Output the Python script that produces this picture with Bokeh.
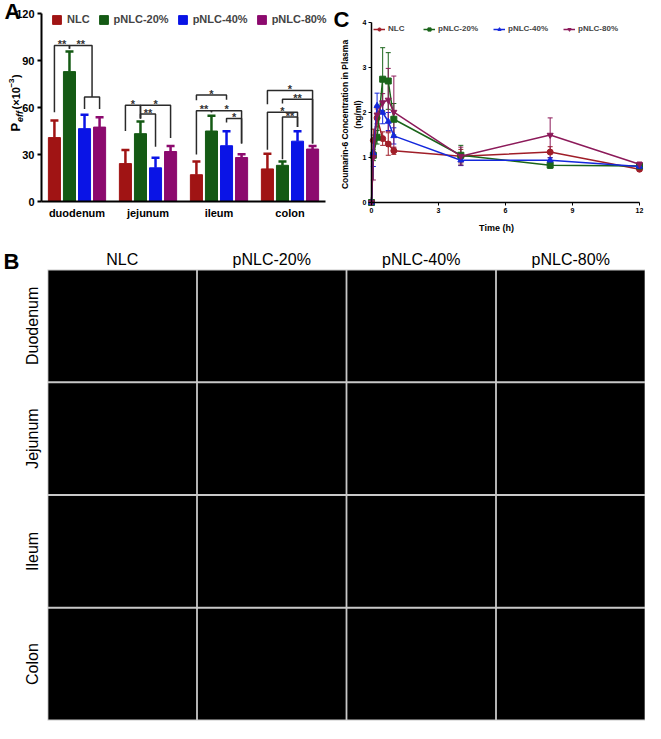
import math
from bokeh.plotting import figure
from bokeh.models import (Range1d, Legend, LegendItem, Whisker, LinearAxis,
                          ColumnDataSource, FixedTicker, TeeHead)
from bokeh.layouts import column, row
from bokeh.embed import file_html
from bokeh.resources import INLINE
from bokeh.core.properties import value

FONT = "Liberation Sans"

# ---------------- Panel A data ----------------
segments = ["duodenum", "jejunum", "ileum", "colon"]
groups = ["NLC", "pNLC-20%", "pNLC-40%", "pNLC-80%"]
peff_nlc = [40.8, 24.2, 17.1, 20.8]
peff_nlc_sd = [10.9, 8.7, 8.5, 9.6]
peff_20 = [82.9, 43.3, 45.0, 23.1]
peff_20_sd = [12.9, 7.7, 9.8, 2.5]
peff_40 = [46.5, 21.5, 35.6, 38.5]
peff_40_sd = [8.9, 6.5, 9.2, 6.3]
peff_80 = [47.5, 31.9, 28.1, 33.5]
peff_80_sd = [6.3, 3.5, 2.1, 1.9]
y_ticks_a = [0, 30, 60, 90, 120]

# significance comparisons: (segment, bar a, bar b, height, drop a, drop b, label)
comparisons = [
    (0, 0, 1, 99.6, 56.9, 97.5, "**"),
    (0, 1, 2.5, 99.6, 97.5, 66.7, "**"),
    (0, 2, 3, 66.7, 59.0, 59.0, ""),
    (1, 0, 1, 61.5, 45.0, 53.0, "*"),
    (1, 1, 3, 61.5, 53.0, 40.6, "*"),
    (1, 1, 2, 55.8, 53.0, 35.0, "**"),
    (2, 0, 2, 68.0, 64.6, 65.0, "*"),
    (2, 0, 1, 58.0, 30.0, 57.0, "**"),
    (2, 1, 3, 58.0, 57.0, 37.0, "*"),
    (2, 2, 3, 53.0, 50.5, 37.0, "*"),
    (3, 0, 3, 70.8, 62.0, 37.0, "*"),
    (3, 1, 3, 65.2, 62.5, 37.0, "**"),
    (3, 0, 2, 57.0, 33.0, 47.5, "*"),
    (3, 1, 2, 54.0, 27.0, 47.5, "**"),
]

# ---------------- Panel C data ----------------
times = [0, 0.083, 0.25, 0.5, 0.75, 1, 4, 8, 12]
conc_nlc = [0, 1.38, 1.88, 1.42, 1.30, 1.15, 1.03, 1.12, 0.74]
conc_nlc_sd = [0, 0.25, 0.20, 0.15, 0.25, 0.08, 0.15, 0.12, 0.04]
conc_20 = [0, 1.05, 1.45, 2.74, 2.70, 1.85, 1.05, 0.83, 0.81]
conc_20_sd = [0, 0.12, 0.15, 0.70, 0.63, 0.35, 0.22, 0.07, 0.05]
conc_40 = [0, 1.10, 2.15, 2.00, 1.80, 1.48, 0.94, 0.94, 0.80]
conc_40_sd = [0, 0.30, 0.28, 0.25, 0.20, 0.18, 0.12, 0.05, 0.04]
conc_80 = [0, 1.00, 1.95, 2.22, 2.28, 2.01, 1.03, 1.50, 0.85]
conc_80_sd = [0, 0.50, 0.20, 0.20, 0.70, 0.80, 0.20, 0.38, 0.05]
x_ticks_c = [0, 3, 6, 9, 12]
y_ticks_c = [0, 1, 2, 3, 4]

# ---------------- Panel B labels ----------------
b_cols = ["NLC", "pNLC-20%", "pNLC-40%", "pNLC-80%"]
b_rows = ["Duodenum", "Jejunum", "Ileum", "Colon"]

colors_a = ["#A01414", "#145A14", "#0A14E6", "#8C0A6E"]
colors_c = ["#A01E28", "#1A641A", "#1428DC", "#8C1A5A"]


def make_fig(w, h, xr, yr):
    p = figure(width=w, height=h, x_range=Range1d(*xr), y_range=Range1d(*yr),
               x_axis_location=None, y_axis_location=None,
               output_backend="svg", toolbar_location=None, min_border=0)
    p.outline_line_color = None
    p.grid.visible = False
    return p


def style_axis(ax, size, lw, tick_out):
    ax.axis_line_width = lw
    ax.major_tick_line_width = lw
    ax.major_tick_out = tick_out
    ax.major_tick_in = 0
    ax.minor_tick_line_color = None
    ax.major_label_text_font = FONT
    ax.major_label_text_font_size = size
    ax.major_label_text_font_style = "bold"
    ax.major_label_text_color = "black"


def txt(p, x, y, text, size, style="bold", angle=0.0, align="left", baseline="middle", color="black"):
    p.text([x], [y], [text], angle=angle, text_font=value(FONT), text_font_size=size,
           text_font_style=style, text_align=align, text_baseline=baseline, text_color=color)


# =============== Panel A ===============
WA, HA = 330, 250
AL, AR, AT, AB = 41, 325, 13, 201          # pixel box of the real axes
ax_ppx = (AR - AL) / 4.0
ay_ppy = (AB - AT) / 120.0
xa0 = -0.5 - AL / ax_ppx
xa1 = 3.5 + (WA - AR) / ax_ppx
ya0 = -(HA - AB) / ay_ppy
ya1 = 120 + AT / ay_ppy
p_a = make_fig(WA, HA, (xa0, xa1), (ya0, ya1))
A_px = lambda px: xa0 + px / ax_ppx
A_py = lambda py: ya1 - py / ay_ppy

offs = [-0.318, -0.106, 0.106, 0.318]
series_a = [(peff_nlc, peff_nlc_sd), (peff_20, peff_20_sd), (peff_40, peff_40_sd), (peff_80, peff_80_sd)]
leg_items = []
for i, ((vals, sds), col) in enumerate(zip(series_a, colors_a)):
    xs = [k + offs[i] for k in range(len(segments))]
    src = ColumnDataSource(dict(x=xs, top=vals, up=[v + s for v, s in zip(vals, sds)]))
    r = p_a.vbar(x="x", top="top", width=0.17, source=src, fill_color=col, line_color=col)
    p_a.add_layout(Whisker(base="x", lower="top", upper="up", source=src, line_color=col,
                           line_width=2.5, lower_head=None,
                           upper_head=TeeHead(size=8, line_color=col, line_width=2.5)))
    leg_items.append(LegendItem(label=groups[i], renderers=[r]))


def bar_x(seg, idx):
    i0 = int(math.floor(idx))
    frac = idx - i0
    if frac == 0:
        return seg + offs[i0]
    return seg + offs[i0] + frac * (offs[i0 + 1] - offs[i0])


bxs, bys, tx, ty, tt = [], [], [], [], []
for seg, a, b, h, la, lb, lab in comparisons:
    x1, x2 = bar_x(seg, a), bar_x(seg, b)
    bxs.append([x1, x1, x2, x2])
    bys.append([la, h, h, lb])
    if lab:
        tx.append((x1 + x2) / 2)
        ty.append(h + 0.8)
        tt.append(lab)
p_a.multi_line(bxs, bys, line_color="#2a2a2a", line_width=1.5)
p_a.text(tx, ty, tt, text_font=value(FONT), text_font_size="11px", text_font_style="bold",
         text_color="#333333", text_align="center", text_baseline="middle")

leg_a = Legend(items=leg_items, location=(51, 225), orientation="horizontal",
               label_text_font=FONT, label_text_font_size="11px", label_text_font_style="bold",
               glyph_width=11, glyph_height=11, label_standoff=5, spacing=8, padding=0, margin=0,
               border_line_color=None, background_fill_alpha=0, label_height=11)
p_a.add_layout(leg_a)

ya = LinearAxis(fixed_location=-0.5, bounds=(0, 120), ticker=FixedTicker(ticks=y_ticks_a))
style_axis(ya, "11px", 2, 4)
ya.major_label_standoff = 3
p_a.add_layout(ya, "left")

xa = LinearAxis(fixed_location=0, bounds=(-0.5, 3.5), ticker=FixedTicker(ticks=[0, 1, 2, 3]))
style_axis(xa, "11px", 2, 0)
xa.major_tick_line_color = None
xa.major_label_overrides = {i: s for i, s in enumerate(segments)}
xa.major_label_standoff = 5
p_a.add_layout(xa, "below")

txt(p_a, A_px(4), A_py(10.5), "A", "22px")
# y axis label P_eff (x10^-3), each piece rotated to read upward (centre aligned)
txt(p_a, A_px(15), A_py(126.7), "P", "13px", angle=math.pi / 2, align="center")
txt(p_a, A_px(19), A_py(116), "eff", "9px", style="bold italic", angle=math.pi / 2, align="center")
txt(p_a, A_px(15), A_py(97.8), "(\u00d710", "11px", angle=math.pi / 2, align="center")
txt(p_a, A_px(11), A_py(82.5), "\u22123", "8px", angle=math.pi / 2, align="center")
txt(p_a, A_px(15), A_py(75.6), ")", "11px", angle=math.pi / 2, align="center")

# =============== Panel C ===============
WC, HC = 315, 250
CL, CR, CT, CB = 41, 309, 22, 202
cx_ppx = (CR - CL) / 12.0
cy_ppy = (CB - CT) / 4.0
xc0 = -CL / cx_ppx
xc1 = 12 + (WC - CR) / cx_ppx
yc0 = -(HC - CB) / cy_ppy
yc1 = 4 + CT / cy_ppy
p_c = make_fig(WC, HC, (xc0, xc1), (yc0, yc1))
C_px = lambda px: xc0 + px / cx_ppx
C_py = lambda py: yc1 - py / cy_ppy

series_c = [(conc_nlc, conc_nlc_sd, "circle"), (conc_20, conc_20_sd, "square"),
            (conc_40, conc_40_sd, "triangle"), (conc_80, conc_80_sd, "inverted_triangle")]
leg_c_items = []
for i, ((vals, sds, mk), col) in enumerate(zip(series_c, colors_c)):
    src = ColumnDataSource(dict(t=times, v=vals,
                                lo=[v - s for v, s in zip(vals, sds)],
                                hi=[v + s for v, s in zip(vals, sds)]))
    p_c.add_layout(Whisker(base="t", lower="lo", upper="hi", source=src, line_color=col, line_width=1,
                           lower_head=TeeHead(size=5, line_color=col, line_width=1),
                           upper_head=TeeHead(size=5, line_color=col, line_width=1)))
    ln = p_c.line("t", "v", source=src, line_color=col, line_width=1.5)
    sc = p_c.scatter("t", "v", source=src, marker=mk, size=6, fill_color=col, line_color=col)
    leg_c_items.append(LegendItem(label=groups[i], renderers=[ln, sc]))

leg_c = Legend(items=leg_c_items, location=(43, 217), orientation="horizontal",
               label_text_font=FONT, label_text_font_size="8px", label_text_font_style="bold",
               glyph_width=12, glyph_height=8, label_standoff=3, spacing=15, padding=0, margin=0,
               border_line_color=None, background_fill_alpha=0, label_height=8)
p_c.add_layout(leg_c)

xcx = LinearAxis(fixed_location=0, bounds=(0, 12), ticker=FixedTicker(ticks=x_ticks_c))
style_axis(xcx, "7px", 1.5, 3)
xcx.major_tick_line_width = 1
xcx.major_label_standoff = 2
p_c.add_layout(xcx, "below")

ycx = LinearAxis(fixed_location=0, bounds=(0, 4), ticker=FixedTicker(ticks=y_ticks_c))
style_axis(ycx, "7px", 1.5, 3)
ycx.major_tick_line_width = 1
ycx.major_label_standoff = 2
p_c.add_layout(ycx, "left")

txt(p_c, C_px(166), C_py(227), "Time (h)", "9px", align="center")
txt(p_c, C_px(14.5), C_py(114), "Coumarin-6 Concentration in Plasma", "8.5px",
    angle=math.pi / 2, align="center")
txt(p_c, C_px(27), C_py(114), "(ng/ml)", "8.5px", angle=math.pi / 2, align="center")
txt(p_c, C_px(3), C_py(18.5), "C", "22px")

# =============== Panel B ===============
WB, HB = 645, 473
BL, BT, BBOT = 47, 19, 470
bx_ppx = (WB - BL) / 4.0
by_ppy = (BBOT - BT) / 4.0
xb0 = -BL / bx_ppx
yb1 = 4 + BT / by_ppy
yb0 = -(HB - BBOT) / by_ppy
p_b = make_fig(WB, HB, (xb0, 4), (yb0, yb1))
B_px = lambda px: xb0 + px / bx_ppx
B_py = lambda py: yb1 - py / by_ppy

p_b.quad(left=[0], right=[4], bottom=[0], top=[4], fill_color="#c8c8c8", line_color=None)
cell_x = [ci + 0.5 for ri in range(len(b_rows)) for ci in range(len(b_cols))]
cell_y = [len(b_rows) - ri - 0.5 for ri in range(len(b_rows)) for ci in range(len(b_cols))]
p_b.rect(x=cell_x, y=cell_y, width=0.988, height=0.982, fill_color="black", line_color=None)

p_b.text([ci + 0.5 for ci in range(len(b_cols))], [B_py(BT - 10)] * len(b_cols), b_cols,
         text_font=value(FONT), text_font_size="16px", text_align="center",
         text_baseline="middle", text_color="black")
p_b.text([B_px(BL - 15)] * len(b_rows), [len(b_rows) - ri - 0.5 for ri in range(len(b_rows))], b_rows,
         angle=math.pi / 2, text_font=value(FONT), text_font_size="16px", text_align="center",
         text_baseline="middle", text_color="black")
txt(p_b, B_px(3), B_py(10.5), "B", "22px")

layout = column(row(p_a, p_c), p_b)
open("out.html", "w").write(file_html(layout, INLINE))
